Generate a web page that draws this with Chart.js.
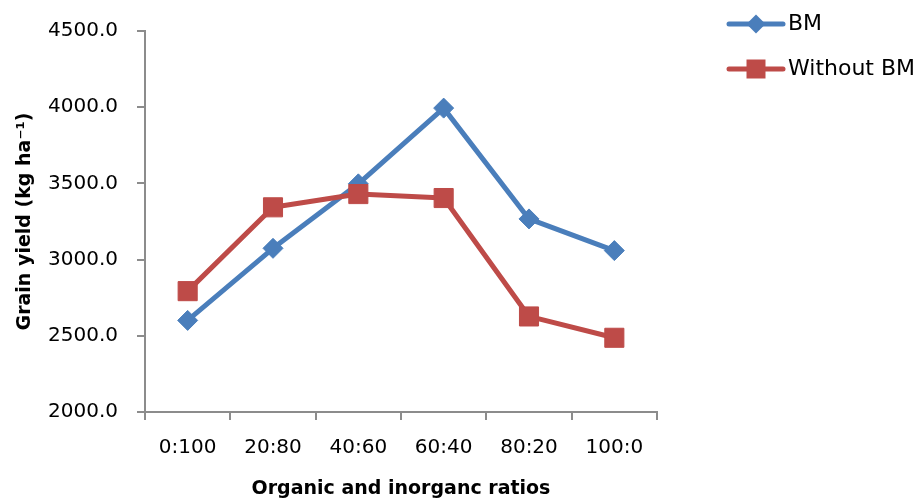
<!DOCTYPE html>
<html>
<head>
<meta charset="utf-8">
<script src="https://cdn.jsdelivr.net/npm/chart.js@4"></script>
<style>
    html, body { margin: 0; padding: 0; background: #ffffff; }
    #wrap { width: 922px; height: 500px; }
</style>
</head>
<body>
<div id="wrap"><canvas id="chartYield" width="922" height="500"></canvas></div>
<script>
const ratioLabels = ['0:100', '20:80', '40:60', '60:40', '80:20', '100:0'];
const bmValues = [2601, 3074, 3497, 3994, 3267, 3059];
const withoutBmValues = [2793, 3343, 3430, 3404, 2627, 2487];
const yTicks = { min: 2000, max: 4500, step: 500 };

const BLUE = '#4a7ebb';
const RED = '#be4b48';
const AXIS = '#8c8c8c';
const FONT = 'DejaVu Sans';

// Legend icon: a short line with the series marker in its middle.
function legendIcon(color, shape) {
    const c = document.createElement('canvas');
    c.width = 60;
    c.height = 22;
    const g = c.getContext('2d');
    g.strokeStyle = color;
    g.fillStyle = color;
    g.lineWidth = 5;
    g.lineCap = 'round';
    g.beginPath();
    g.moveTo(3, 11);
    g.lineTo(57, 11);
    g.stroke();
    g.beginPath();
    if (shape === 'diamond') {
        g.moveTo(30, 1.5);
        g.lineTo(39.5, 11);
        g.lineTo(30, 20.5);
        g.lineTo(20.5, 11);
        g.closePath();
    } else {
        g.rect(20.5, 1.5, 19, 19);
    }
    g.fill();
    return c;
}

const legendIcons = [legendIcon(BLUE, 'diamond'), legendIcon(RED, 'square')];

const placeLegend = {
    id: 'placeLegend',
    afterLayout(chart) {
        if (!chart.legend) { return; }
        chart.legend.left = 712;
        chart.legend.top = -10;
        chart.legend.right = 922;
        chart.legend.bottom = 200;
    }
};

new Chart(document.getElementById('chartYield'), {
    type: 'line',
    data: {
        labels: ratioLabels,
        datasets: [{
            label: 'BM',
            data: bmValues,
            borderColor: BLUE,
            backgroundColor: BLUE,
            borderWidth: 5,
            pointStyle: 'rectRot',
            pointRadius: 10,
            pointBorderWidth: 1,
            borderJoinStyle: 'round',
            borderCapStyle: 'round',
            tension: 0,
            order: 2
        }, {
            label: 'Without BM',
            data: withoutBmValues,
            borderColor: RED,
            backgroundColor: RED,
            borderWidth: 5,
            pointStyle: 'rect',
            pointRadius: 13.5,
            pointBorderWidth: 1,
            borderJoinStyle: 'round',
            borderCapStyle: 'round',
            tension: 0,
            order: 1
        }]
    },
    options: {
        responsive: false,
        animation: false,
        devicePixelRatio: 1,
        layout: { padding: { left: 0, right: 265, top: 30, bottom: 0 } },
        plugins: {
            tooltip: { enabled: false },
            legend: {
                position: 'chartArea',
                align: 'start',
                labels: {
                    usePointStyle: true,
                    pointStyleWidth: 42,
                    padding: 23,
                    color: '#000000',
                    font: { family: FONT, size: 22 },
                    sort: (a, b) => a.datasetIndex - b.datasetIndex,
                    generateLabels: (chart) => Chart.defaults.plugins.legend.labels.generateLabels(chart)
                        .map(item => ({ ...item, pointStyle: legendIcons[item.datasetIndex] }))
                }
            }
        },
        scales: {
            x: {
                offset: true,
                grid: {
                    offset: true,
                    drawOnChartArea: false,
                    drawTicks: true,
                    tickLength: 8,
                    color: AXIS,
                    lineWidth: 2
                },
                border: { color: AXIS, width: 2 },
                ticks: {
                    color: '#000000',
                    padding: 16,
                    maxRotation: 0,
                    font: { family: FONT, size: 20 }
                },
                title: {
                    display: true,
                    text: 'Organic and inorganc ratios',
                    color: '#000000',
                    padding: { top: 0, bottom: 0 },
                    font: { family: FONT, size: 19, weight: 'bold' }
                },
                afterFit: (scale) => { scale.height = 88; }
            },
            y: {
                min: yTicks.min,
                max: yTicks.max,
                grid: {
                    drawOnChartArea: false,
                    drawTicks: true,
                    tickLength: 8,
                    color: AXIS,
                    lineWidth: 2
                },
                border: { color: AXIS, width: 2 },
                ticks: {
                    stepSize: yTicks.step,
                    color: '#000000',
                    padding: 19,
                    font: { family: FONT, size: 20 },
                    callback: (value) => Number(value).toFixed(1)
                },
                title: {
                    display: true,
                    text: 'Grain yield (kg ha\u207B\u00B9)',
                    color: '#000000',
                    padding: { top: 14, bottom: 0 },
                    font: { family: FONT, size: 19, weight: 'bold' }
                },
                afterFit: (scale) => { scale.width = 145; }
            }
        }
    },
    plugins: [placeLegend]
});
</script>
</body>
</html>
